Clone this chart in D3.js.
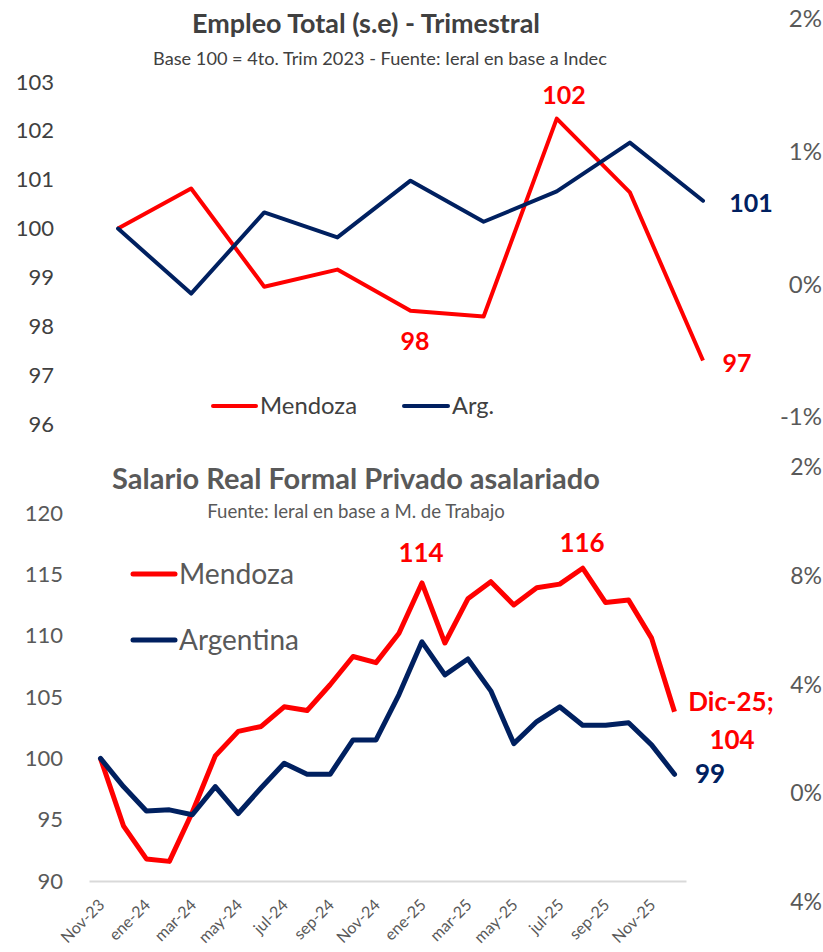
<!DOCTYPE html>
<html><head><meta charset="utf-8">
<script src="https://cdn.jsdelivr.net/npm/d3@7"></script>
<style>body{margin:0;background:#fff}svg{display:block}text{font-family:Lato,"Open Sans",sans-serif}</style>
</head><body><svg id="c" width="823" height="952"></svg>
<script>
// ---------- data ----------
const quarters = ["IV-23","I-24","II-24","III-24","IV-24","I-25","II-25","III-25","IV-25"];
const empMendoza = [100, 100.82, 98.81, 99.16, 98.32, 98.2, 102.25, 100.74, 97.3];
const empArg = [100, 98.67, 100.33, 99.82, 100.98, 100.14, 100.76, 101.76, 100.57];
const empTicks = [96, 97, 98, 99, 100, 101, 102, 103];

const months = ["Nov-23","Dic-23","ene-24","feb-24","mar-24","abr-24","may-24","jun-24","jul-24","ago-24","sep-24","oct-24","Nov-24","Dic-24","ene-25","feb-25","mar-25","abr-25","may-25","jun-25","jul-25","ago-25","sep-25","oct-25","Nov-25","Dic-25"];
const salMendoza = [100,94.5,91.8,91.6,95.6,100.2,102.2,102.6,104.2,103.9,106.0,108.3,107.8,110.2,114.3,109.4,113.0,114.4,112.5,113.9,114.2,115.5,112.7,112.9,109.8,103.8];
const salArg = [100,97.7,95.7,95.8,95.4,97.7,95.5,97.6,99.6,98.7,98.7,101.5,101.5,105.2,109.5,106.8,108.1,105.5,101.2,103.0,104.2,102.7,102.7,102.9,101.1,98.7];
const salTicks = [90, 95, 100, 105, 110, 115, 120];
const monthTickLabels = months.filter((d, i) => i % 2 === 0);

const pctTopLabels = [{v: 2, t: "2%"}, {v: 1, t: "1%"}, {v: 0, t: "0%"}, {v: -1, t: "-1%"}];
const pctBottomLabels = [{v: 12, t: "2%"}, {v: 8, t: "8%"}, {v: 4, t: "4%"}, {v: 0, t: "0%"}, {v: -4, t: "4%"}];

const RED = "#FF0000", NAVY = "#002060";
const svg = d3.select("#c");

function fit(sel, w) {
  const cur = parseFloat(sel.attr("font-size"));
  const L = sel.node().getComputedTextLength();
  sel.attr("font-size", (cur * w / L).toFixed(2));
  return sel;
}
function txt(g, x, y, s, o) {
  const t = g.append("text").attr("x", x).attr("y", y).attr("dy", "0.35em")
    .attr("text-anchor", o.anchor || "middle").attr("font-size", o.size || 16)
    .attr("font-weight", o.bold ? 700 : 400).attr("fill", o.color || "#404040").text(s);
  if (o.w) fit(t, o.w);
  return t;
}

// ---------- top chart ----------
const xTop = d3.scalePoint().domain(quarters).range([118, 703]);
const yTop = d3.scaleLinear().domain([96, 103]).range([424, 82]);
const gTop = svg.append("g");

txt(gTop, 366, 24, "Empleo Total (s.e) - Trimestral", {size: 24, bold: true, color: "#404040", w: 348});
txt(gTop, 380, 59, "Base 100 = 4to. Trim 2023 - Fuente: Ieral en base a Indec", {size: 14, color: "#404040", w: 454});

const yAxT = gTop.append("g").attr("transform", "translate(57,0)")
  .call(d3.axisLeft(yTop).tickValues(empTicks).tickSize(0).tickPadding(3).tickFormat(d3.format("d")));
yAxT.select(".domain").remove();
yAxT.selectAll("text").attr("font-size", 22).attr("fill", "#404040").attr("font-family", "Lato");

const lineTop = (arr) => d3.line().x((d, i) => xTop(quarters[i])).y(d => yTop(d))(arr);
gTop.append("path").attr("d", lineTop(empMendoza)).attr("fill", "none").attr("stroke", RED).attr("stroke-width", 4).attr("stroke-linejoin", "round");
gTop.append("path").attr("d", lineTop(empArg)).attr("fill", "none").attr("stroke", NAVY).attr("stroke-width", 4).attr("stroke-linejoin", "round").attr("stroke-linecap", "round");

txt(gTop, 564, 95, "102", {size: 25, bold: true, color: RED});
txt(gTop, 415, 341, "98", {size: 25, bold: true, color: RED});
txt(gTop, 737, 363, "97", {size: 25, bold: true, color: RED});
txt(gTop, 751, 203, "101", {size: 25, bold: true, color: NAVY});

// legend top
gTop.append("line").attr("x1", 213).attr("x2", 256).attr("y1", 406).attr("y2", 406).attr("stroke", RED).attr("stroke-width", 4).attr("stroke-linecap", "round");
txt(gTop, 260, 406, "Mendoza", {size: 22, anchor: "start", color: "#404040", w: 97});
gTop.append("line").attr("x1", 404).attr("x2", 448).attr("y1", 406).attr("y2", 406).attr("stroke", NAVY).attr("stroke-width", 4).attr("stroke-linecap", "round");
txt(gTop, 452, 406, "Arg.", {size: 22, anchor: "start", color: "#404040", w: 42});

// secondary pct labels (top)
const yPctTop = d3.scaleLinear().domain([-1, 2]).range([417, 19]);
gTop.selectAll(".pt").data(pctTopLabels).join("text").attr("class", "pt")
  .attr("x", 822).attr("y", d => yPctTop(d.v)).attr("dy", "0.35em").attr("text-anchor", "end")
  .attr("font-size", 24).attr("fill", "#595959").text(d => d.t);

// ---------- bottom chart ----------
const xBot = d3.scaleBand().domain(months).range([89, 686]);
const yBot = d3.scaleLinear().domain([90, 120]).range([881, 513]);
const gBot = svg.append("g");
const cx = d => xBot(d) + xBot.bandwidth() / 2;

txt(gBot, 356, 479, "Salario Real Formal Privado asalariado", {size: 24, bold: true, color: "#595959", w: 488});
txt(gBot, 356, 511, "Fuente: Ieral en base a M. de Trabajo", {size: 14, color: "#595959", w: 298});

const yAxB = gBot.append("g").attr("transform", "translate(66,0)")
  .call(d3.axisLeft(yBot).tickValues(salTicks).tickSize(0).tickPadding(3).tickFormat(d3.format("d")));
yAxB.select(".domain").remove();
yAxB.selectAll("text").attr("font-size", 22).attr("fill", "#595959").attr("font-family", "Lato");

const xAxB = gBot.append("g").attr("transform", "translate(0,881)")
  .call(d3.axisBottom(xBot).tickValues(monthTickLabels).tickSize(0).tickPadding(0));
xAxB.select(".domain").attr("stroke", "#d9d9d9").attr("stroke-width", 2);
xAxB.selectAll(".tick text").attr("font-size", 16).attr("fill", "#595959").attr("font-family", "Lato")
  .attr("text-anchor", "end").attr("dy", null).attr("y", 0)
  .attr("transform", "translate(5,25) rotate(-45)");

const lineBot = (arr) => d3.line().x((d, i) => cx(months[i])).y(d => yBot(d))(arr);
gBot.append("path").attr("d", lineBot(salMendoza)).attr("fill", "none").attr("stroke", RED).attr("stroke-width", 5).attr("stroke-linejoin", "round");
gBot.append("path").attr("d", lineBot(salArg)).attr("fill", "none").attr("stroke", NAVY).attr("stroke-width", 5).attr("stroke-linejoin", "round").attr("stroke-linecap", "round");

txt(gBot, 421, 553, "114", {size: 26, bold: true, color: RED});
txt(gBot, 582, 543, "116", {size: 26, bold: true, color: RED});
txt(gBot, 731, 702, "Dic-25;", {size: 26, bold: true, color: RED});
txt(gBot, 732, 740, "104", {size: 26, bold: true, color: RED});
txt(gBot, 710, 774, "99", {size: 26, bold: true, color: NAVY});

// legend bottom
gBot.append("line").attr("x1", 133).attr("x2", 175).attr("y1", 574).attr("y2", 574).attr("stroke", RED).attr("stroke-width", 5).attr("stroke-linecap", "round");
txt(gBot, 179, 574, "Mendoza", {size: 27, anchor: "start", color: "#595959", w: 115});
gBot.append("line").attr("x1", 133).attr("x2", 175).attr("y1", 640).attr("y2", 640).attr("stroke", NAVY).attr("stroke-width", 5).attr("stroke-linecap", "round");
txt(gBot, 179, 640, "Argentina", {size: 27, anchor: "start", color: "#595959", w: 120});

// secondary pct labels (bottom)
const yPctBot = d3.scaleLinear().domain([-4, 12]).range([902, 467]);
gBot.selectAll(".pb").data(pctBottomLabels).join("text").attr("class", "pb")
  .attr("x", 822).attr("y", d => yPctBot(d.v)).attr("dy", "0.35em").attr("text-anchor", "end")
  .attr("font-size", 23).attr("fill", "#595959").text(d => d.t);
</script></body></html>
